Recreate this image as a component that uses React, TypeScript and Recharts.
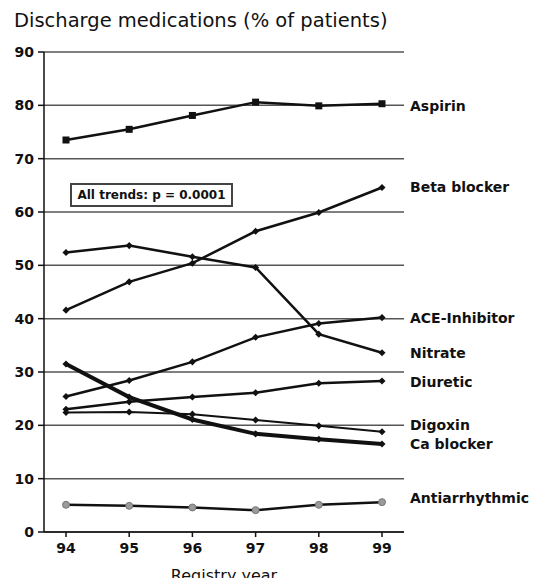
import { LineChart, Line, XAxis, YAxis, CartesianGrid } from 'recharts';

const years = ['94', '95', '96', '97', '98', '99'];
const yTicks = [0, 10, 20, 30, 40, 50, 60, 70, 80, 90];

const aspirin = [73.5, 75.5, 78.1, 80.6, 79.9, 80.3];
const betaBlocker = [41.6, 46.9, 50.4, 56.4, 59.9, 64.6];
const aceInhibitor = [25.4, 28.4, 31.9, 36.5, 39.1, 40.2];
const nitrate = [52.4, 53.7, 51.6, 49.6, 37.1, 33.6];
const diuretic = [23.0, 24.4, 25.3, 26.1, 27.9, 28.3];
const digoxin = [22.4, 22.5, 22.1, 21.0, 19.9, 18.8];
const caBlocker = [31.5, 25.3, 21.1, 18.4, 17.4, 16.5];
const antiarrhythmic = [5.1, 4.9, 4.6, 4.1, 5.1, 5.6];

const series = [
  { key: 'aspirin', name: 'Aspirin', values: aspirin, width: 2.5, dot: 'square', labelDy: 2 },
  { key: 'beta', name: 'Beta blocker', values: betaBlocker, width: 2.5, dot: 'small', labelDy: 0 },
  { key: 'ace', name: 'ACE-Inhibitor', values: aceInhibitor, width: 2.5, dot: 'small', labelDy: 0 },
  { key: 'nitrate', name: 'Nitrate', values: nitrate, width: 2.5, dot: 'small', labelDy: 0 },
  { key: 'diuretic', name: 'Diuretic', values: diuretic, width: 2.5, dot: 'small', labelDy: 1 },
  { key: 'digoxin', name: 'Digoxin', values: digoxin, width: 2, dot: 'small', labelDy: -7 },
  { key: 'ca', name: 'Ca blocker', values: caBlocker, width: 4, dot: 'small', labelDy: 0 },
  { key: 'anti', name: 'Antiarrhythmic', values: antiarrhythmic, width: 2.5, dot: 'round', labelDy: -4 },
];

const chartData = years.map((year, i) => {
  const row: Record<string, string | number> = { year };
  series.forEach(s => {
    row[s.key] = s.values[i];
  });
  return row;
});

const FONT = '"DejaVu Sans", Arial, sans-serif';

const makeDot = (kind: string) => (props: any) => {
  const { cx, cy, index } = props;
  if (cx == null || cy == null) return <g key={index} />;
  if (kind === 'square') {
    return <rect key={index} x={cx - 3.5} y={cy - 3.5} width={7} height={7} fill="#111" />;
  }
  if (kind === 'round') {
    return <circle key={index} cx={cx} cy={cy} r={3.5} fill="#9a9a9a" stroke="#777" strokeWidth={1} />;
  }
  return <rect key={index} x={cx - 2.5} y={cy - 2.5} width={5} height={5} fill="#111" transform={`rotate(45 ${cx} ${cy})`} />;
};

// series name written just right of the last point
const makeEndLabel = (name: string, dy: number) => (props: any) => {
  const { x, y, index } = props;
  if (index !== years.length - 1) return null;
  return (
    <text
      key={name}
      x={x + 28}
      y={y + dy}
      dominantBaseline="central"
      fontFamily={FONT}
      fontWeight="bold"
      fontSize={14}
      fill="#111"
    >
      {name}
    </text>
  );
};

const App = () => {
  return (
    <div style={{ position: 'relative', width: 540, height: 586, margin: -8, background: '#fff' }}>
      <div
        style={{
          position: 'absolute',
          left: 14,
          top: 11,
          fontFamily: FONT,
          fontSize: 19.5,
          lineHeight: '20px',
          color: '#111',
          whiteSpace: 'nowrap',
        }}
      >
        Discharge medications (% of patients)
      </div>

      <LineChart
        width={540}
        height={586}
        data={chartData}
        margin={{ top: 52, right: 136, left: 0, bottom: 0 }}
      >
        <CartesianGrid vertical={false} stroke="#555" strokeWidth={1.5} />
        <XAxis
          dataKey="year"
          padding={{ left: 22, right: 22 }}
          height={54}
          tickSize={5}
          tickMargin={6}
          stroke="#111"
          axisLine={{ stroke: '#111', strokeWidth: 1.5 }}
          tickLine={{ stroke: '#111', strokeWidth: 1.5 }}
          tick={{ fontFamily: FONT, fontWeight: 'bold', fontSize: 14, fill: '#111' }}
          label={{
            value: 'Registry year',
            position: 'insideBottom',
            offset: 5,
            style: { fontFamily: FONT, fontSize: 16, fill: '#111' },
          }}
        />
        <YAxis
          domain={[0, 90]}
          ticks={yTicks}
          width={44}
          tickSize={6}
          tickMargin={4}
          interval={0}
          axisLine={{ stroke: '#111', strokeWidth: 1.5 }}
          tickLine={{ stroke: '#111', strokeWidth: 1.5 }}
          tick={{ fontFamily: FONT, fontWeight: 'bold', fontSize: 14, fill: '#111' }}
        />
        <YAxis
          yAxisId="frame"
          orientation="right"
          domain={[0, 90]}
          width={0}
          tick={false}
          tickLine={false}
          axisLine={{ stroke: '#888', strokeWidth: 1.5 }}
        />
        {series.map(s => (
          <Line
            key={s.key}
            dataKey={s.key}
            name={s.name}
            type="linear"
            stroke="#111"
            strokeWidth={s.width}
            dot={makeDot(s.dot)}
            activeDot={false}
            label={makeEndLabel(s.name, s.labelDy)}
            isAnimationActive={false}
          />
        ))}
      </LineChart>

      <div
        style={{
          position: 'absolute',
          left: 70,
          top: 183,
          width: 159,
          height: 20,
          border: '2px solid #444',
          fontFamily: FONT,
          fontWeight: 'bold',
          fontSize: 12,
          lineHeight: '20px',
          textAlign: 'center',
          color: '#111',
          whiteSpace: 'nowrap',
        }}
      >
        All trends: p = 0.0001
      </div>
    </div>
  );
};

export default App;
